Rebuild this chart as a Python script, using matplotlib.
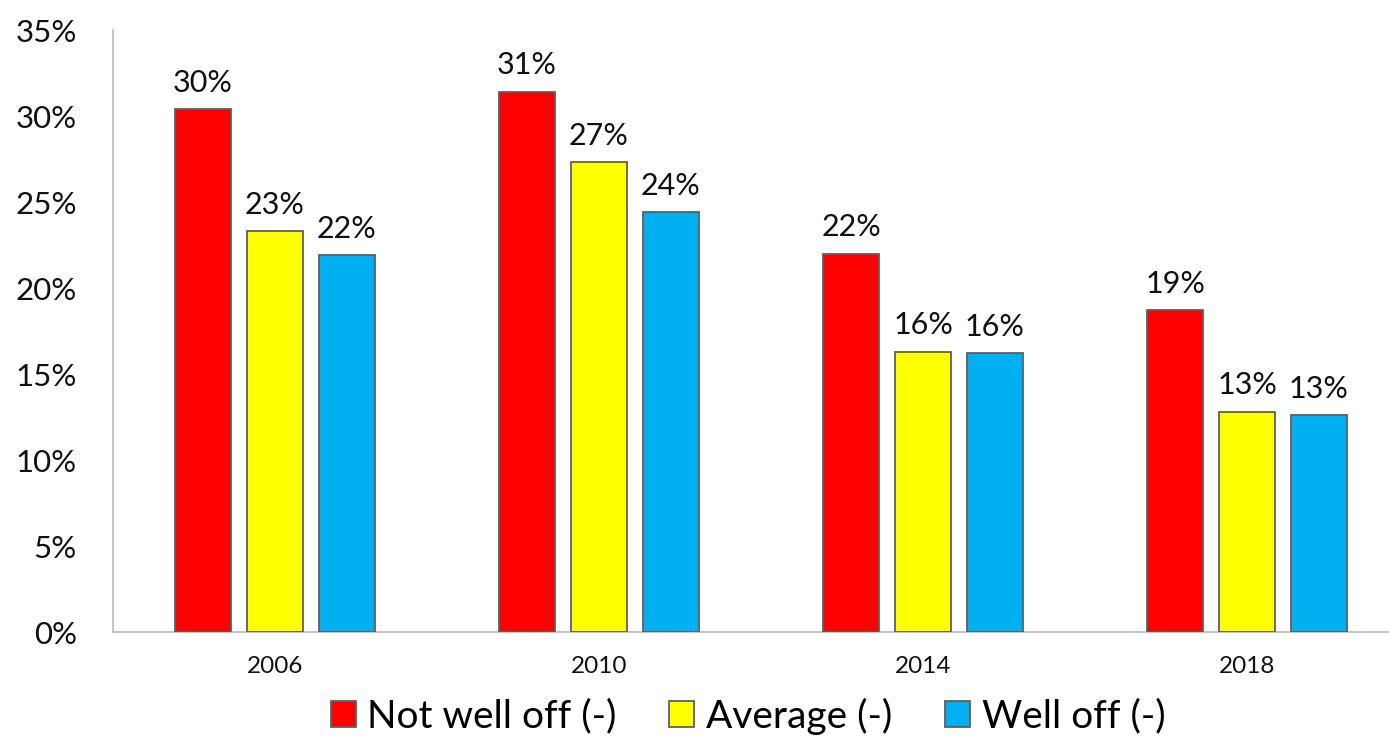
import matplotlib.pyplot as plt
import numpy as np
from matplotlib.ticker import FuncFormatter

plt.rcParams['font.family'] = ['Lato', 'DejaVu Sans']

years = ['2006', '2010', '2014', '2018']
not_well_off = [30.4, 31.4, 22.0, 18.7]
average = [23.3, 27.3, 16.3, 12.8]
well_off = [21.9, 24.4, 16.2, 12.6]

series = [
    ('Not well off (-)', not_well_off, '#FF0000'),
    ('Average (-)', average, '#FFFF00'),
    ('Well off (-)', well_off, '#00B0F0'),
]

fig = plt.figure(figsize=(13.89, 7.54), dpi=100)
# axes run a little past the right edge, like the source layout
ax = fig.add_axes([113 / 1389, 122 / 754, 1296 / 1389, 602 / 754])

x = np.arange(len(years))
width = 0.173
step = 0.222
for i, (name, vals, color) in enumerate(series):
    pos = x + (i - 1) * step
    bars = ax.bar(pos, vals, width, color=color, edgecolor='#5f5f5f',
                  linewidth=1.3, label=name, zorder=3)
    for b, v in zip(bars, vals):
        ax.annotate(f'{v:.0f}%', (b.get_x() + b.get_width() / 2, v),
                    xytext=(0, 9), textcoords='offset points',
                    ha='center', va='bottom', fontsize=22, color='#111111')

ax.set_xlim(-0.5, len(years) - 0.5)
ax.set_ylim(0, 35)
ax.set_yticks(np.arange(0, 36, 5))
ax.yaxis.set_major_formatter(FuncFormatter(lambda v, _: f'{v:.0f}%'))
ax.set_xticks(x)
ax.set_xticklabels(years)
ax.tick_params(axis='y', length=0, pad=26, labelsize=22.5, labelcolor='#111111')
ax.tick_params(axis='x', length=0, pad=17, labelsize=17.5, labelcolor='#111111')

for side in ['top', 'right']:
    ax.spines[side].set_visible(False)
for side in ['left', 'bottom']:
    ax.spines[side].set_color('#BFBFBF')
    ax.spines[side].set_linewidth(1.3)

fig.legend(loc='center', bbox_to_anchor=(748 / 1389, 1 - 716 / 754),
           ncol=3, frameon=False, fontsize=28, handlelength=0.64,
           handleheight=0.64, handletextpad=0.3, columnspacing=1.36,
           borderpad=0.2)

fig.savefig('out.png', dpi=100)
